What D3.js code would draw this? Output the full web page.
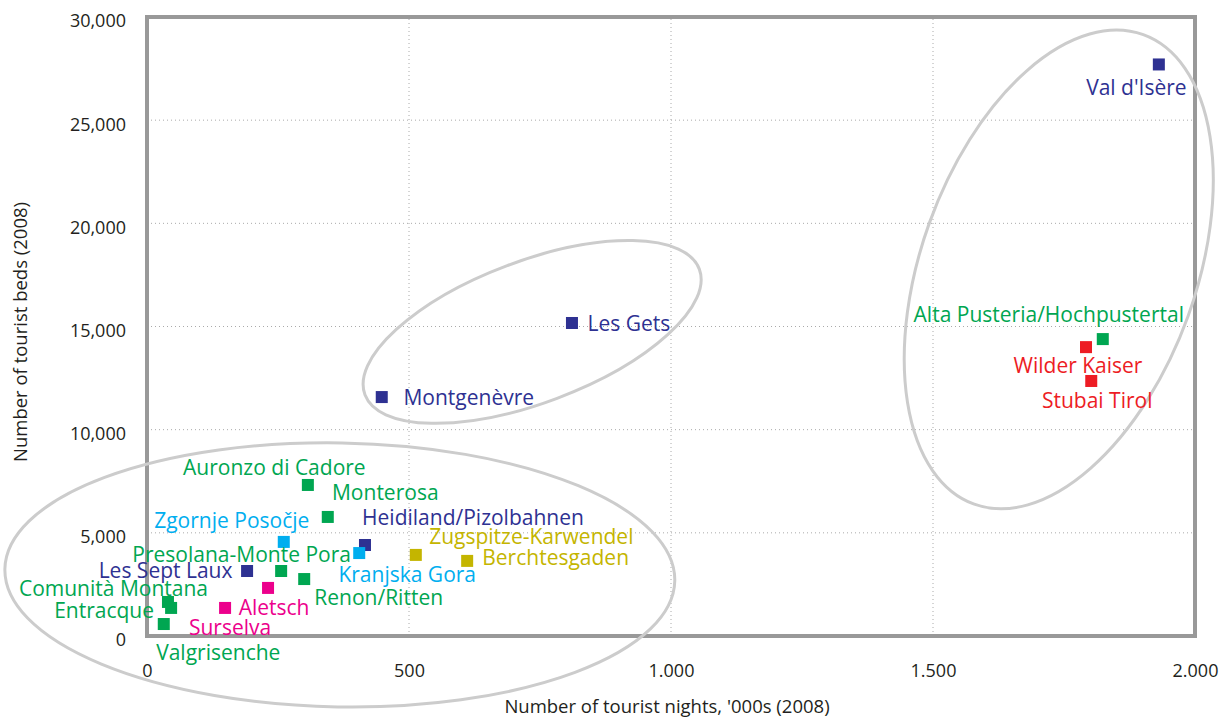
<!DOCTYPE html>
<html>
<head>
<meta charset="utf-8">
<script src="https://cdn.jsdelivr.net/npm/d3@7"></script>
<style>
  html, body { margin: 0; padding: 0; background: #fff; }
  svg { display: block; font-family: "Open Sans", "Noto Sans", sans-serif; }
</style>
</head>
<body>
<svg id="chart" width="1221" height="720"></svg>
<script>
// ---- data ----
const names = ["Val d'Isère", "Les Gets", "Montgenèvre", "Alta Pusteria/Hochpustertal", "Wilder Kaiser", "Stubai Tirol",
  "Auronzo di Cadore", "Monterosa", "Zgornje Posočje", "Heidiland/Pizolbahnen", "Kranjska Gora", "Zugspitze-Karwendel",
  "Berchtesgaden", "Les Sept Laux", "Presolana-Monte Pora", "Renon/Ritten", "Aletsch", "Surselva",
  "Comunità Montana", "Entracque", "Valgrisenche"];
const countries = ["FR", "FR", "FR", "IT", "AT", "AT", "IT", "IT", "SI", "CH", "SI", "DE", "DE", "FR", "IT", "IT", "CH2", "CH2", "IT", "IT", "IT"];
const nights = [1931, 811, 448, 1824, 1792, 1802, 307, 345, 261, 416, 405, 513, 611, 191, 256, 300, 149, 231, 40, 46, 32];
const beds = [27700, 15170, 11580, 14390, 14000, 12360, 7320, 5770, 4560, 4410, 4020, 3930, 3640, 3150, 3150, 2760, 1360, 2330, 1650, 1360, 580];
const xTickValues = [0, 500, 1000, 1500, 2000];
const xTickLabels = ["0", "500", "1.000", "1.500", "2.000"];
const yTickValues = [0, 5000, 10000, 15000, 20000, 25000, 30000];
const yTickLabels = ["0", "5,000", "10,000", "15,000", "20,000", "25,000", "30,000"];
const xTitle = "Number of tourist nights, '000s (2008)";
const yTitle = "Number of tourist beds (2008)";
// cluster ellipses: centre in data units
const clusterNights = [368, 735, 1740];
const clusterBeds = [2960, 14735, 17765];

// ---- layout / style (kept apart from data) ----
const colorOf = { FR: "#2e3192", IT: "#00a651", AT: "#ed1c24", SI: "#00aeef", CH: "#2e3192", DE: "#c4b500", CH2: "#ec008c" };
// label centre offsets (px) relative to the marker
const labelDx = [-22.5, 57, 87, -54, -8, 6, -33.5, 57.5, -52, 108, 48, 115.5, 88.5, -81.5, -39.5, 74.5, 49, -38, -54.5, -67, 54.5];
const labelDy = [23, 0, 0, -25, 18, 19, -18, -25, -21, -28, 21, -18, -3, -1, -17, 18, 0, 40, -14, 3, 28];
const ellipseRx = [335, 178.6, 137.5];
const ellipseRy = [132, 70.9, 249.5];
const ellipseRot = [1, -20.6, 19.8];

const svg = d3.select("#chart");
const x = d3.scaleLinear().domain([0, 2000]).range([147, 1195]);
const y = d3.scaleLinear().domain([0, 30000]).range([636, 17]);

// gridlines
const grid = svg.append("g");
grid.selectAll("line.v").data(xTickValues.slice(1, -1)).join("line")
  .attr("x1", d => x(d)).attr("x2", d => x(d)).attr("y1", y(0)).attr("y2", y(30000))
  .attr("stroke", "#aaa").attr("stroke-width", 1).attr("stroke-dasharray", "1,3");
grid.selectAll("line.h").data(yTickValues.slice(1, -1)).join("line")
  .attr("x1", x(0)).attr("x2", x(2000)).attr("y1", d => y(d)).attr("y2", d => y(d))
  .attr("stroke", "#aaa").attr("stroke-width", 1).attr("stroke-dasharray", "1,3");

// frame
svg.append("rect").attr("x", x(0)).attr("y", y(30000)).attr("width", x(2000) - x(0)).attr("height", y(0) - y(30000))
  .attr("fill", "none").attr("stroke", "#999").attr("stroke-width", 4);

// axes
const xAxis = svg.append("g").attr("transform", `translate(0,${y(0)})`)
  .call(d3.axisBottom(x).tickValues(xTickValues).tickFormat((d, i) => xTickLabels[i]).tickSize(0).tickPadding(35));
const yAxis = svg.append("g").attr("transform", `translate(${x(0)},0)`)
  .call(d3.axisLeft(y).tickValues(yTickValues).tickFormat((d, i) => yTickLabels[i]).tickSize(0).tickPadding(21));
[xAxis, yAxis].forEach(a => {
  a.select(".domain").remove();
  a.selectAll("text").attr("font-family", "'Open Sans', sans-serif").attr("font-size", 18).attr("fill", "#231f20");
});
yAxis.selectAll("text").attr("dy", "0.55em");
xAxis.selectAll("text").attr("dy", "0.36em");

// ellipses
svg.append("g").selectAll("ellipse").data(clusterNights).join("ellipse")
  .attr("transform", (d, i) => `translate(${x(d)},${y(clusterBeds[i])}) rotate(${ellipseRot[i]})`)
  .attr("rx", (d, i) => ellipseRx[i]).attr("ry", (d, i) => ellipseRy[i])
  .attr("fill", "none").attr("stroke", "#cccccc").attr("stroke-width", 3);

// markers
const idx = d3.range(names.length);
svg.append("g").selectAll("rect").data(idx).join("rect")
  .attr("x", i => x(nights[i]) - 6).attr("y", i => y(beds[i]) - 6)
  .attr("width", 12).attr("height", 12)
  .attr("fill", i => colorOf[countries[i]]);

// labels
const fs = 21;
svg.append("g").selectAll("text").data(idx).join("text")
  .attr("x", i => x(nights[i]) + labelDx[i])
  .attr("y", i => y(beds[i]) + labelDy[i] + 0.36 * fs)
  .attr("text-anchor", "middle")
  .attr("font-size", fs)
  .attr("fill", i => colorOf[countries[i]])
  .text(i => names[i]);

// axis titles
const tfs = 18.5;
svg.append("text").attr("x", 667).attr("y", 706 + 0.36 * tfs).attr("text-anchor", "middle")
  .attr("font-size", tfs).attr("fill", "#231f20").text(xTitle);
svg.append("text").attr("transform", `translate(${20 + 0.36 * tfs},332) rotate(-90)`).attr("text-anchor", "middle")
  .attr("font-size", tfs).attr("fill", "#231f20").text(yTitle);
</script>
</body>
</html>
